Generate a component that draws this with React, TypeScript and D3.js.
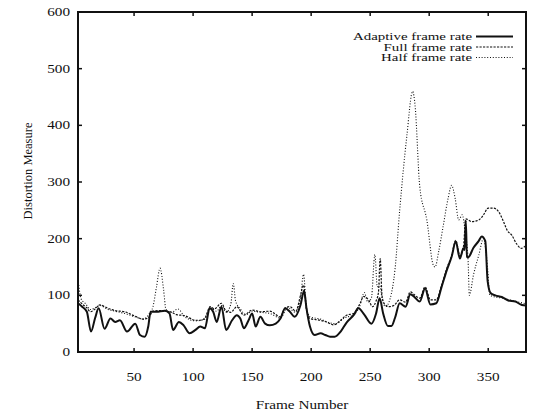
import React from "react";
import * as d3 from "d3";

const xTicks = [50, 100, 150, 200, 250, 300, 350];
const yTicks = [0, 100, 200, 300, 400, 500, 600];
const legendLabels = ["Adaptive frame rate", "Full frame rate", "Half frame rate"];

const adaptiveData: [number, number][] = [
  [2.5, 86], [6, 80], [10, 71], [13.5, 36], [17, 60], [20, 77], [25, 41], [30, 59], [34, 53], [38, 56],
  [44, 36], [51, 50], [55, 30], [59, 27], [62, 45], [64, 71], [69, 71], [76, 73], [80, 68], [83, 39],
  [88, 53], [92, 47], [97, 33], [102, 39], [106, 45], [110, 42], [114, 77], [117, 71], [120, 53], [124, 80],
  [128, 39], [133, 56], [137, 65], [140, 59], [143, 42], [147, 56], [150, 68], [153, 45], [157, 62], [161, 50],
  [165, 47], [170, 50], [174, 59], [178, 77], [182, 71], [186, 62], [191, 83], [194, 108], [196, 78], [199, 45],
  [203, 30], [208, 33], [212, 30], [216, 27], [220, 27], [225, 36], [230, 52], [236, 65], [240, 77], [245, 66],
  [251, 50], [255, 68], [258, 95], [261, 68], [265, 46], [268, 46], [271, 60], [275, 86], [280, 80], [284, 102],
  [288, 96], [292, 89], [296.5, 112], [301, 84], [306, 86], [310.5, 115], [315, 145], [319, 168], [322.5, 195], [326, 165],
  [329, 183], [330, 180], [331, 232], [332, 168], [333, 167], [337.5, 184], [342, 196], [344.5, 204], [347.5, 196], [349.5, 125],
  [352, 104], [356, 100], [361.5, 97], [367, 91], [373, 89], [378.5, 83], [382, 82],
];

const fullData: [number, number][] = [
  [2.5, 92], [7, 83], [10, 78], [13, 71], [17, 76], [21, 83], [28, 77], [34, 73], [42, 71], [51, 63],
  [58, 58], [62, 60], [66, 72], [72, 73], [78, 72], [82, 70], [86, 66], [93, 64], [102, 56], [106, 56],
  [110, 60], [114.5, 80], [118, 76], [124, 86], [128, 72], [132, 70], [137, 80], [143, 65], [150, 74], [157, 71],
  [165, 72], [174, 62], [178, 78], [182, 80], [187, 72], [191, 100], [193.5, 118], [196, 75], [199, 59], [207.6, 56],
  [213, 53], [219, 48], [225, 56], [230, 65], [236, 68], [241.5, 86], [244.4, 98], [248.6, 92], [252, 80], [255, 90],
  [257, 105], [258.5, 165], [260, 100], [262, 85], [266, 80], [270, 82], [275, 92], [280, 88], [284, 106], [288, 100],
  [292, 95], [296.5, 115], [301, 92], [306, 92], [310.5, 118], [315, 148], [319, 170], [322.5, 197], [326, 170], [329, 186],
  [331, 235], [336, 230], [342, 233], [346, 242], [350, 254], [354.5, 254], [359, 247], [363, 230], [366, 215], [370, 206],
  [374, 191], [378, 183], [382, 188],
];

const halfData: [number, number][] = [
  [2.5, 128], [3.5, 112], [5, 94], [9, 85], [13, 75], [17, 78], [21, 82], [28, 75], [34, 72], [42, 68],
  [51, 62], [58, 58], [63, 68], [66, 80], [69, 115], [72, 148], [75, 110], [77, 75], [82, 70], [87, 76],
  [93, 62], [102, 55], [110, 58], [114.5, 78], [120, 72], [124, 82], [128, 70], [132, 85], [134, 121], [136, 90],
  [140, 76], [145, 66], [150, 72], [157, 70], [165, 68], [174, 60], [180, 78], [187, 70], [191, 95], [193.5, 137],
  [196, 80], [199, 62], [208, 58], [215, 52], [221, 50], [228, 60], [236, 66], [241, 80], [245, 105], [248, 88],
  [251, 95], [254, 172], [256, 115], [258, 120], [260, 95], [263, 80], [267, 95], [271, 145], [275, 250], [281, 380],
  [286, 460], [288, 436], [292, 292], [298, 233], [303.5, 153], [305, 150], [308, 177], [312, 224], [316, 271], [319, 294],
  [322, 271], [325, 233], [328, 242], [330.5, 212], [333, 159], [334, 100], [337.5, 136], [342, 171], [346, 200], [349, 159],
  [351.5, 100], [356, 97], [362, 95], [368, 92], [374, 89], [382, 85],
];

const W = 534;
const H = 414;
const left = 78;
const right = 526;
const top = 12;
const bottom = 352;
const FONT = "'Liberation Serif', 'Times New Roman', serif";
const FS = 12.5;
const SX = 1.22;

function T({ x, y, anchor, children, fs = FS, sx = SX }: { x: number; y: number; anchor: string; children: React.ReactNode; fs?: number; sx?: number }) {
  return (
    <text
      transform={`translate(${x},${y}) scale(${sx},1)`}
      textAnchor={anchor}
      fontFamily={FONT}
      fontSize={fs}
      fill="#111"
    >
      {children}
    </text>
  );
}

export default function App() {
  const x = d3.scaleLinear().domain([2.5, 382]).range([left, right]);
  const y = d3.scaleLinear().domain([0, 600]).range([bottom, top]);
  const line = d3
    .line<[number, number]>()
    .x((d) => x(d[0]))
    .y((d) => y(d[1]))
    .curve(d3.curveMonotoneX);

  const series = [
    { data: halfData, dash: "1,1.8", width: 1.1 },
    { data: fullData, dash: "2.2,1.3", width: 1.2 },
    { data: adaptiveData, dash: "", width: 2 },
  ];
  const legendStyles = [
    { dash: "", width: 2 },
    { dash: "2.2,1.3", width: 1.2 },
    { dash: "1,1.8", width: 1.1 },
  ];

  return (
    <svg width={W} height={H} style={{ position: "absolute", left: 0, top: 0, background: "#fff" }}>
      <rect x={0} y={0} width={W} height={H} fill="#fff" />
      <defs>
        <clipPath id="plot">
          <rect x={left} y={top} width={right - left} height={bottom - top} />
        </clipPath>
      </defs>
      <g clipPath="url(#plot)">
        {series.map((s, i) => (
          <path
            key={i}
            d={line(s.data) || ""}
            fill="none"
            stroke="#111"
            strokeWidth={s.width}
            strokeDasharray={s.dash || undefined}
            strokeLinejoin="round"
          />
        ))}
      </g>
      <rect x={left} y={top} width={right - left} height={bottom - top} fill="none" stroke="#111" strokeWidth={2} />
      {yTicks.map((t) => (
        <g key={"y" + t}>
          <line x1={left} x2={left + 4} y1={y(t)} y2={y(t)} stroke="#111" strokeWidth={1.5} />
          <line x1={right - 4} x2={right} y1={y(t)} y2={y(t)} stroke="#111" strokeWidth={1.5} />
          <T x={70} y={y(t) + 4} anchor="end">{t}</T>
        </g>
      ))}
      {xTicks.map((t) => (
        <g key={"x" + t}>
          <line x1={x(t)} x2={x(t)} y1={bottom} y2={bottom - 4} stroke="#111" strokeWidth={1.5} />
          <line x1={x(t)} x2={x(t)} y1={top} y2={top + 4} stroke="#111" strokeWidth={1.5} />
          <T x={x(t)} y={381} anchor="middle">{t}</T>
        </g>
      ))}
      <T x={(left + right) / 2} y={409} anchor="middle">Frame Number</T>
      <text
        transform={`translate(32,171) rotate(-90)`}
        textAnchor="middle"
        fontFamily={FONT}
        fontSize={FS}
        fill="#111"
      >
        Distortion Measure
      </text>
      {legendLabels.map((lab, i) => (
        <g key={lab}>
          <T x={472} y={40 + i * 10.5} anchor="end" fs={10.5} sx={1.42}>{lab}</T>
          <line
            x1={476}
            x2={513}
            y1={36.5 + i * 10.5}
            y2={36.5 + i * 10.5}
            stroke="#111"
            strokeWidth={legendStyles[i].width}
            strokeDasharray={legendStyles[i].dash || undefined}
          />
        </g>
      ))}
    </svg>
  );
}
